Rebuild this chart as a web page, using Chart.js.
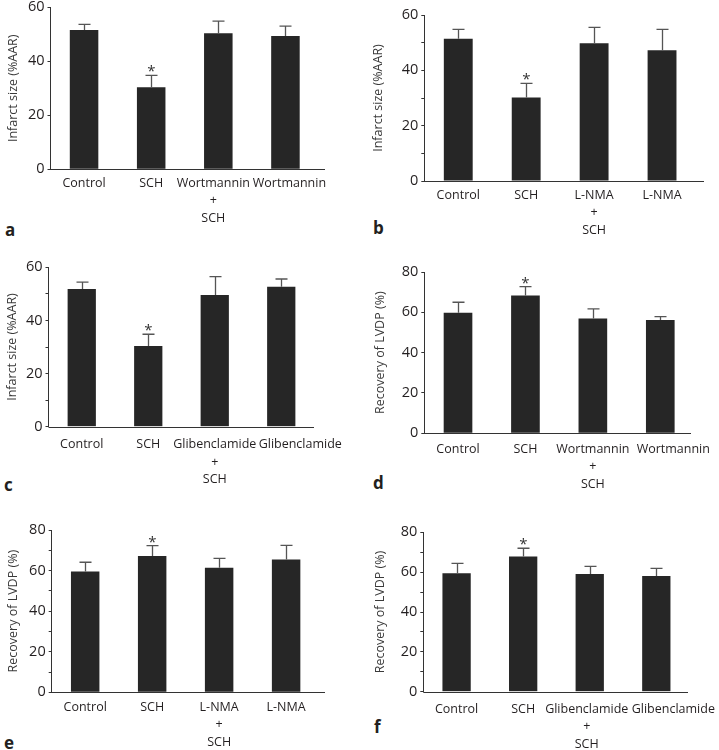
<!DOCTYPE html>
<html><head><meta charset="utf-8">
<script src="https://cdn.jsdelivr.net/npm/chart.js@4"></script>
<style>
html,body{margin:0;padding:0;background:#fff;overflow:hidden;width:719px;height:750px;position:relative;}
canvas{position:absolute;left:0;top:-30px;}
.lbl{position:absolute;font:bold 17px "Open Sans";color:#231f20;line-height:17px;}
</style></head><body>
<div class="lbl" style="left:5px;top:221px">a</div>
<div class="lbl" style="left:373px;top:219px">b</div>
<div class="lbl" style="left:4px;top:476px">c</div>
<div class="lbl" style="left:373px;top:474px">d</div>
<div class="lbl" style="left:4px;top:734px">e</div>
<div class="lbl" style="left:374px;top:718px">f</div>
<canvas id="ca" width="719" height="830"></canvas>
<canvas id="cb" width="719" height="830"></canvas>
<canvas id="cc" width="719" height="830"></canvas>
<canvas id="cd" width="719" height="830"></canvas>
<canvas id="ce" width="719" height="830"></canvas>
<canvas id="cf" width="719" height="830"></canvas>
<script>
// ---- data ----
const categoriesA = ["Control", "SCH", ["Wortmannin", "+", "SCH"], "Wortmannin"];
const categoriesB = ["Control", "SCH", ["L-NMA", "+", "SCH"], "L-NMA"];
const categoriesC = ["Control", "SCH", ["Glibenclamide", "+", "SCH"], "Glibenclamide"];

const infarctTitle = "Infarct size (%AAR)";
const lvdpTitle = "Recovery of LVDP (%)";

const meansA = [51.6, 30.4, 50.4, 49.4];
const errA   = [2.1, 4.4, 4.5, 3.6];
const meansB = [51.4, 30.2, 49.8, 47.3];
const errB   = [3.4, 5.1, 5.7, 7.5];
const meansC = [51.8, 30.4, 49.6, 52.7];
const errC   = [2.6, 4.4, 6.9, 2.9];
const meansD = [59.8, 68.3, 56.9, 56.2];
const errD   = [5.2, 4.4, 4.8, 1.7];
const meansE = [59.5, 67.2, 61.4, 65.5];
const errE   = [4.6, 5.1, 4.6, 6.9];
const meansF = [59.4, 67.8, 59.1, 58.1];
const errF   = [5.0, 4.2, 3.8, 3.8];

const stars = ["", "*", "", ""];
const yMaxInfarct = 60;
const yMaxLvdp = 80;

// ---- layout (page coordinates) ----
const SHIFT = 30, CH = 830, XH = 70;
const panels = [
  {id:'ca', cats:categoriesA, means:meansA, errs:errA, title:infarctTitle, max:yMaxInfarct, minor:false,
   x0:0, left:50.5, right:319, axisEnd:325, top:7.3, zero:169.3, titleX:13, labelPad:5, shifts:[0,0,-5,4]},
  {id:'cb', cats:categoriesB, means:meansB, errs:errB, title:infarctTitle, max:yMaxInfarct, minor:true,
   x0:360, left:424.3, right:696, axisEnd:704, top:15, zero:181, titleX:378.3, labelPad:5, shifts:[0,0,0,0]},
  {id:'cc', cats:categoriesC, means:meansC, errs:errC, title:infarctTitle, max:yMaxInfarct, minor:true,
   x0:0, left:48.5, right:314.5, axisEnd:314, top:267.3, zero:426.7, titleX:12.7, labelPad:8.5, shifts:[0,0,0,19]},
  {id:'cd', cats:categoriesA, means:meansD, errs:errD, title:lvdpTitle, max:yMaxLvdp, minor:false,
   x0:360, left:424.3, right:694, axisEnd:691, top:272, zero:433.3, titleX:380.7, labelPad:7, shifts:[0,0,0,13]},
  {id:'ce', cats:categoriesB, means:meansE, errs:errE, title:lvdpTitle, max:yMaxLvdp, minor:true,
   x0:0, left:51.7, right:319.6, axisEnd:325, top:530, zero:692.3, titleX:13.3, labelPad:6, shifts:[0,0,0,0]},
  {id:'cf', cats:categoriesC, means:meansF, errs:errF, title:lvdpTitle, max:yMaxLvdp, minor:true,
   x0:360, left:423.3, right:689.6, axisEnd:688, top:532.3, zero:691.7, titleX:380.7, labelPad:8, shifts:[0,0,-3,17]},
];

Chart.defaults.font.family = '"Open Sans", "Noto Sans", sans-serif';
const INK = '#231f20';
const TITLE_FONT = 12.5, TITLE_LH = 1.2;
const XFONT = 12.5, XLH = 17.5;

function makePlugin(p){
  return {
    id:'errbars_'+p.id,
    afterDatasetsDraw(chart){
      const ctx = chart.ctx, ys = chart.scales.y, xs = chart.scales.x, meta = chart.getDatasetMeta(0);
      ctx.save();
      const y0 = Math.round(ys.getPixelForValue(0)) + 0.5;
      ctx.strokeStyle = '#333'; ctx.lineWidth = 1;
      ctx.beginPath(); ctx.moveTo(chart.chartArea.left, y0); ctx.lineTo(p.axisEnd, y0); ctx.stroke();
      meta.data.forEach((bar, i) => {
        const x = Math.round(bar.x) + 0.5;
        const yt = ys.getPixelForValue(p.means[i] + p.errs[i]);
        const ym = ys.getPixelForValue(p.means[i]);
        ctx.strokeStyle = '#555'; ctx.lineWidth = 1.3;
        ctx.beginPath();
        ctx.moveTo(x, ym); ctx.lineTo(x, yt);
        ctx.moveTo(x - 6, yt); ctx.lineTo(x + 6, yt);
        ctx.stroke();
        if (stars[i]) {
          ctx.fillStyle = '#333';
          ctx.font = '15px "Open Sans"';
          ctx.textAlign = 'center';
          ctx.textBaseline = 'alphabetic';
          ctx.fillText(stars[i], x, yt + 1);
        }
      });
      // category labels
      ctx.fillStyle = INK;
      ctx.font = XFONT + 'px "Open Sans"';
      ctx.textAlign = 'center';
      ctx.textBaseline = 'middle';
      p.cats.forEach((lab, i) => {
        const lines = Array.isArray(lab) ? lab : [lab];
        const x = xs.getPixelForValue(i) + p.shifts[i];
        lines.forEach((ln, k) => {
          ctx.fillText(ln, x, y0 + p.labelPad + XLH / 2 + k * XLH);
        });
      });
      ctx.restore();
    }
  };
}

panels.forEach(p => {
  const ctx = document.getElementById(p.id).getContext('2d');
  new Chart(ctx, {
    type:'bar',
    data:{ labels:p.cats, datasets:[{ data:p.means, backgroundColor:'#262626', borderWidth:0,
      barPercentage:0.425, categoryPercentage:1 }] },
    options:{
      responsive:false, animation:false, devicePixelRatio:1,
      layout:{ padding:{ left:p.x0, top:p.top + SHIFT, right:719 - p.right, bottom:CH - (p.zero + SHIFT) - XH } },
      plugins:{ legend:{display:false}, tooltip:{enabled:false} },
      scales:{
        x:{ type:'category', offset:true,
            grid:{display:false, drawTicks:false}, border:{display:false},
            ticks:{ display:false },
            afterFit(s){ s.height = XH; } },
        y:{ min:0, max:p.max,
            ticks:{ stepSize:p.minor ? 10 : 20, autoSkip:false, font:{size:14.5}, color:INK, padding:3,
                    callback:(v) => (v % 20 === 0 ? v : '') },
            grid:{ drawOnChartArea:false, drawTicks:true, tickLength:3, color:'#333', lineWidth:1 },
            border:{ display:true, color:'#333', width:1 },
            title:{ display:true, text:p.title, color:'#3a3a3a', font:{size:TITLE_FONT, lineHeight:TITLE_LH},
                    padding:{ top:p.titleX - p.x0 - TITLE_FONT*TITLE_LH/2, bottom:0 } },
            afterFit(s){ s.width = p.left - p.x0; } }
      }
    },
    plugins:[makePlugin(p)]
  });
});
</script>
</body></html>
